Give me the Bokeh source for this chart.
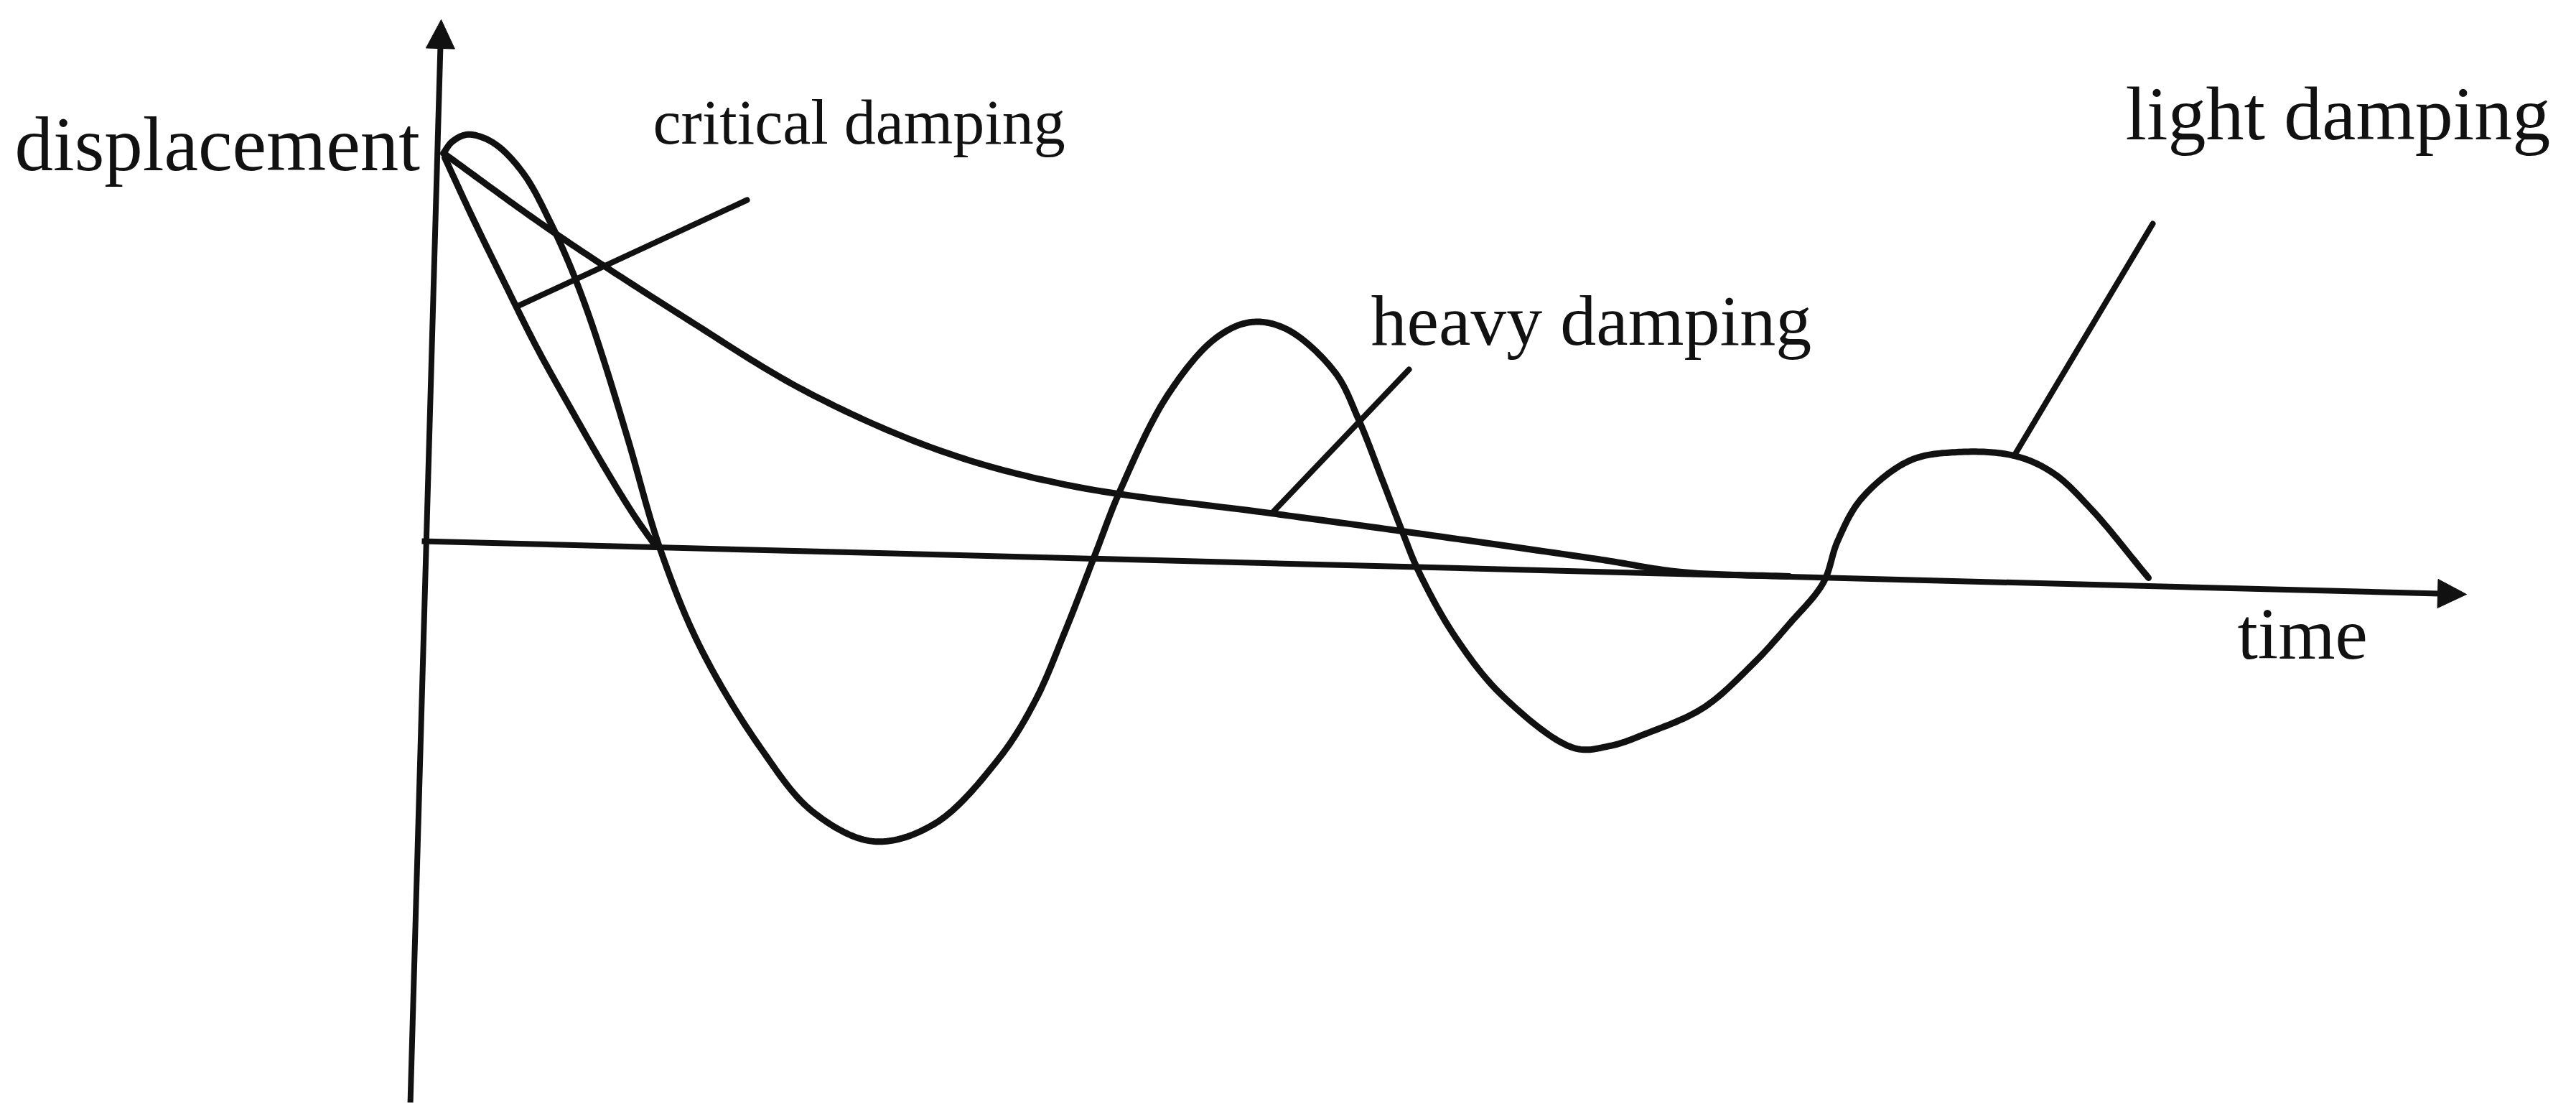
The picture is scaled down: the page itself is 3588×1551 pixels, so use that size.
import numpy as np
from bokeh.plotting import figure
from bokeh.models import Range1d, Arrow, NormalHead
from bokeh.core.properties import value
from bokeh.embed import file_html
from bokeh.resources import INLINE

# ---- data (time, displacement; arbitrary units) ----
light_t = [25, 37, 57, 80, 105, 140, 175, 200, 225, 250, 283, 327, 383, 467, 540, 625, 710,
           800, 850, 890, 933, 967, 1033, 1100, 1150, 1200, 1267, 1300, 1333, 1362, 1383, 1433,
           1500, 1600, 1650, 1700, 1780, 1850, 1900, 1947, 1967, 2000, 2067, 2133, 2213, 2267,
           2320, 2400]
light_d = [540, 556, 566, 562, 547, 507, 442, 387, 322, 247, 139, -11, -148, -288, -377, -418, -393,
           -301, -221, -128, -18, 69, 202, 282, 305, 295, 235, 169, 85, 10, -41, -131,
           -215, -288, -285, -268, -232, -170, -115, -58, 0, 59, 112, 124, 119, 95,
           45, -51]

critical_t = [27, 65, 110, 155, 200, 250, 290, 320]
critical_d = [534, 452, 360, 270, 189, 102, 37, -6]

heavy_t = [27, 173, 360, 533, 720, 900, 1177, 1360, 1633, 1750, 1900]
heavy_d = [539, 434, 312, 207, 125, 77, 39, 14, -25, -43, -49]

# axes (drawn slightly skewed as in the scanned figure)
time_axis_t = [-5, 2843]
time_axis_d = [0, -74]
disp_axis_t = [-21, 22]
disp_axis_d = [-785, 726]

# leader lines: start on curve, end near label
leader_names = ["critical damping", "heavy damping", "light damping"]
leader_t0 = [128, 1180, 2213]
leader_d0 = [327, 40, 119]
leader_t1 = [448, 1370, 2406]
leader_d1 = [475, 239, 442]

label_text = ["displacement", "critical damping", "heavy damping", "light damping", "time"]
label_t = [-572, 317, 1317, 2368, 2524]
label_d = [553, 583, 307, 595, -129]
label_size = ["107px", "88px", "100px", "106px", "102px"]


def smooth(ts, ds, n=24, alpha=0.5):
    """Centripetal Catmull-Rom rendering of a line through the read points."""
    P = np.column_stack([ts, ds]).astype(float)
    P = np.vstack([2 * P[0] - P[1], P, 2 * P[-1] - P[-2]])
    out = []
    for i in range(1, len(P) - 2):
        p0, p1, p2, p3 = P[i - 1], P[i], P[i + 1], P[i + 2]
        t0 = 0.0
        t1 = t0 + np.linalg.norm(p1 - p0) ** alpha
        t2 = t1 + np.linalg.norm(p2 - p1) ** alpha
        t3 = t2 + np.linalg.norm(p3 - p2) ** alpha
        for t in np.linspace(t1, t2, n, endpoint=False):
            a1 = (t1 - t) / (t1 - t0) * p0 + (t - t0) / (t1 - t0) * p1
            a2 = (t2 - t) / (t2 - t1) * p1 + (t - t1) / (t2 - t1) * p2
            a3 = (t3 - t) / (t3 - t2) * p2 + (t - t2) / (t3 - t2) * p3
            b1 = (t2 - t) / (t2 - t0) * a1 + (t - t0) / (t2 - t0) * a2
            b2 = (t3 - t) / (t3 - t1) * a2 + (t - t1) / (t3 - t1) * a3
            out.append((t2 - t) / (t2 - t1) * b1 + (t - t1) / (t2 - t1) * b2)
    out.append(P[-2])
    out = np.array(out)
    return out[:, 0], out[:, 1]


W, H = 3572, 1535
p = figure(width=W, height=H, output_backend="svg", toolbar_location=None,
           x_range=Range1d(-592, 2980), y_range=Range1d(-782, 753),
           x_axis_type=None, y_axis_type=None, min_border=0,
           background_fill_color="white", border_fill_color="white")
p.grid.visible = False
p.outline_line_color = None

INK = "#111111"
LW = 9

for ts, ds in [(light_t, light_d), (critical_t, critical_d), (heavy_t, heavy_d)]:
    sx, sy = smooth(ts, ds)
    p.line(sx, sy, line_color=INK, line_width=LW, line_cap="round", line_join="round")

for i in range(len(leader_names)):
    p.line([leader_t0[i], leader_t1[i]], [leader_d0[i], leader_d1[i]],
           line_color=INK, line_width=8, line_cap="round")

# axes with arrow heads
p.add_layout(Arrow(end=NormalHead(size=40, fill_color=INK, line_color=INK, line_width=1),
                   x_start=time_axis_t[0], y_start=time_axis_d[0],
                   x_end=time_axis_t[1], y_end=time_axis_d[1],
                   line_color=INK, line_width=8))
p.add_layout(Arrow(end=NormalHead(size=40, fill_color=INK, line_color=INK, line_width=1),
                   x_start=disp_axis_t[0], y_start=disp_axis_d[0],
                   x_end=disp_axis_t[1], y_end=disp_axis_d[1],
                   line_color=INK, line_width=8))

for txt, t, d, fs in zip(label_text, label_t, label_d, label_size):
    p.text(x=[t], y=[d], text=[txt], text_font=value("Liberation Serif"),
           text_font_size=fs, text_color=INK, text_align="left",
           text_baseline="alphabetic")

open("out.html", "w").write(file_html(p, INLINE))
